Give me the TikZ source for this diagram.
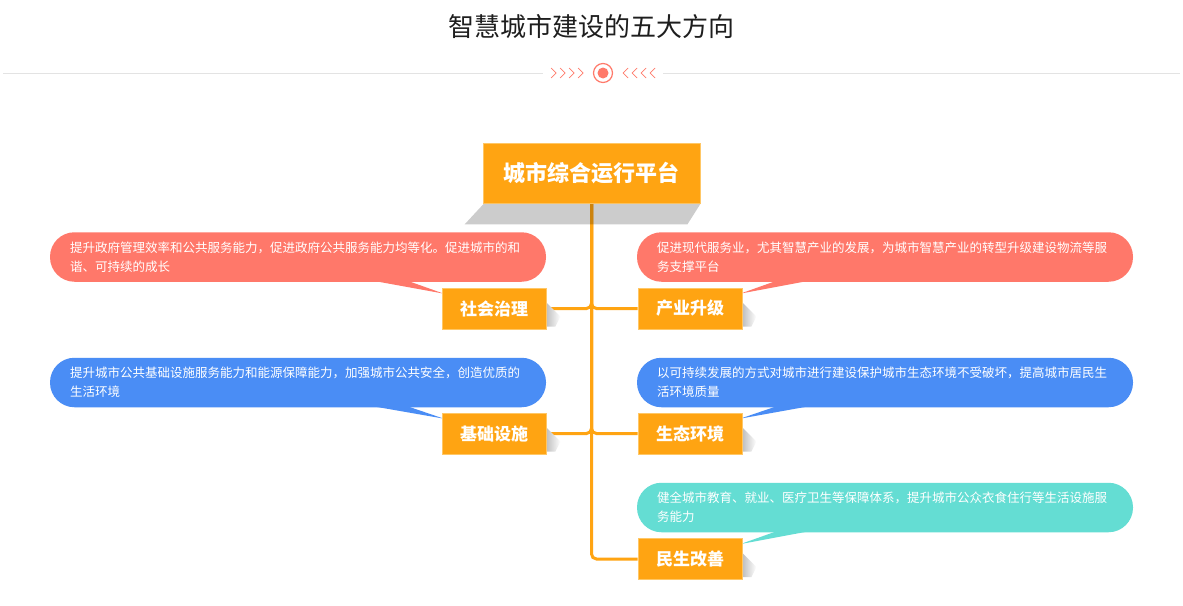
\documentclass[tikz,border=0pt]{standalone}
\usepackage{fontspec}
\newfontfamily\cjk{Noto Sans CJK SC}
\usetikzlibrary{calc}
\pgfdeclarelayer{bg}
\pgfsetlayers{bg,main}
\definecolor{orangeC}{HTML}{FFA412}
\definecolor{orangeL}{HTML}{FFC766}
\definecolor{coral}{HTML}{FF7A6B}
\definecolor{bred}{HTML}{FF786A}
\definecolor{bblue}{HTML}{4A8DF5}
\definecolor{bteal}{HTML}{64DDD3}
\definecolor{lineg}{HTML}{E3E3E3}
\definecolor{titlec}{HTML}{1E1E1E}
\tikzset{
  box/.style={fill=orangeC, draw=orangeL, line width=0.8pt, minimum width=104pt, minimum height=41pt, inner sep=0pt, text=white, font=\cjk\bfseries\fontsize{17}{20}\selectfont},
  mainbox/.style={box, minimum width=217pt, minimum height=60pt, font=\cjk\bfseries\fontsize{22}{26}\selectfont},
  bubble/.style={rounded corners=24.5pt, minimum width=496pt, minimum height=49.5pt, text width=456pt, align=left, inner xsep=20pt, inner ysep=0pt, text=white, font=\cjk\fontsize{12.5}{19}\selectfont},
  link/.style={draw=orangeC, line width=3pt, rounded corners=5pt},
  chev/.style={draw=coral, line width=0.7pt},
  bshadow/.style={left color=black!25, right color=white, draw=none},
}
\begin{document}
\begin{tikzpicture}[x=1pt,y=-1pt]
\begin{pgfonlayer}{bg}
\useasboundingbox[fill=white] (0,0) rectangle (1183,605);
\end{pgfonlayer}
% title
\node[font=\cjk\fontsize{26}{30}\selectfont, text=titlec] (title) at (591.5,27) {智慧城市建设的五大方向};
% decoration line
\coordinate (ll) at (3,73); \coordinate (lr) at (543,73);
\coordinate (rl) at (663,73); \coordinate (rr) at (1180,73);
\draw[lineg, line width=1pt] (ll) -- (lr);
\draw[lineg, line width=1pt] (rl) -- (rr);
\foreach \x in {551,560,569,578} { \draw[chev] (\x,68) -- (\x+5,73) -- (\x,78); }
\foreach \x in {623,632,641,650} { \draw[chev] (\x+5,68) -- (\x,73) -- (\x+5,78); }
\node[circle, draw=coral, line width=1.2pt, minimum size=19pt, inner sep=0pt] (ring) at (603,73) {};
\node[circle, fill=coral, minimum size=11pt, inner sep=0pt] (dot) at (603,73) {};

% bubbles
\node[bubble, fill=bred] (b1) at (298,257) {提升政府管理效率和公共服务能力，促进政府公共服务能力均等化。促进城市的和\\谐、可持续的成长};
\node[bubble, fill=bred] (b2) at (885,257) {促进现代服务业，尤其智慧产业的发展，为城市智慧产业的转型升级建设物流等服\\务支撑平台};
\node[bubble, fill=bblue] (b3) at (298,382.5) {提升城市公共基础设施服务能力和能源保障能力，加强城市公共安全，创造优质的\\生活环境};
\node[bubble, fill=bblue] (b4) at (885,382.5) {以可持续发展的方式对城市进行建设保护城市生态环境不受破坏，提高城市居民生\\活环境质量};
\node[bubble, fill=bteal] (b5) at (885,507.5) {健全城市教育、就业、医疗卫生等保障体系，提升城市公众衣食住行等生活设施服\\务能力};

% branch boxes
\node[box] (s1) at (494,308.5) {社会治理};
\node[box] (s2) at (690,308.5) {产业升级};
\node[box] (s3) at (494,433.5) {基础设施};
\node[box] (s4) at (690,433.5) {生态环境};
\node[box] (s5) at (690,559) {民生改善};

% central box
\node[mainbox] (c) at (591.5,173) {城市综合运行平台};

% connectors
\begin{pgfonlayer}{bg}
\draw[link] (c.south) |- (s1.east);
\draw[link] (c.south) |- (s2.west);
\draw[link] (c.south) |- (s3.east);
\draw[link] (c.south) |- (s4.west);
\draw[link] (c.south) |- (s5.west);
\end{pgfonlayer}

% main shadow
\fill[black, opacity=0.2] ($(c.south west)+(1,0.5)$) -- ($(c.south east)+(0,0.5)$) -- ($(c.south east)+(-13,21)$) -- ($(c.south west)+(-18,21)$) -- cycle;

\begin{pgfonlayer}{bg}
% tails
\fill[bred] ($(b1.south)+(76,-1)$) -- ($(s1.north west)+(2,6)$) -- ($(b1.south)+(110,-1)$) -- cycle;
\fill[bred] ($(b2.south)+(-109,-1)$) -- ($(s2.north east)+(-2,6)$) -- ($(b2.south)+(-77,-1)$) -- cycle;
\fill[bblue] ($(b3.south)+(76,-1)$) -- ($(s3.north west)+(2,6)$) -- ($(b3.south)+(110,-1)$) -- cycle;
\fill[bblue] ($(b4.south)+(-109,-1)$) -- ($(s4.north east)+(-2,6)$) -- ($(b4.south)+(-77,-1)$) -- cycle;
\fill[bteal] ($(b5.south)+(-109,-1)$) -- ($(s5.north east)+(-2,6)$) -- ($(b5.south)+(-77,-1)$) -- cycle;
% small box shadows
\foreach \s in {s1,s2,s3,s4,s5} {
  \shade[bshadow] ($(\s.east)+(0,-6)$) -- ++(14,14) -- ++(-5,10) -- ($(\s.east)+(0,18)$) -- cycle;
}
\end{pgfonlayer}
\end{tikzpicture}
\end{document}
